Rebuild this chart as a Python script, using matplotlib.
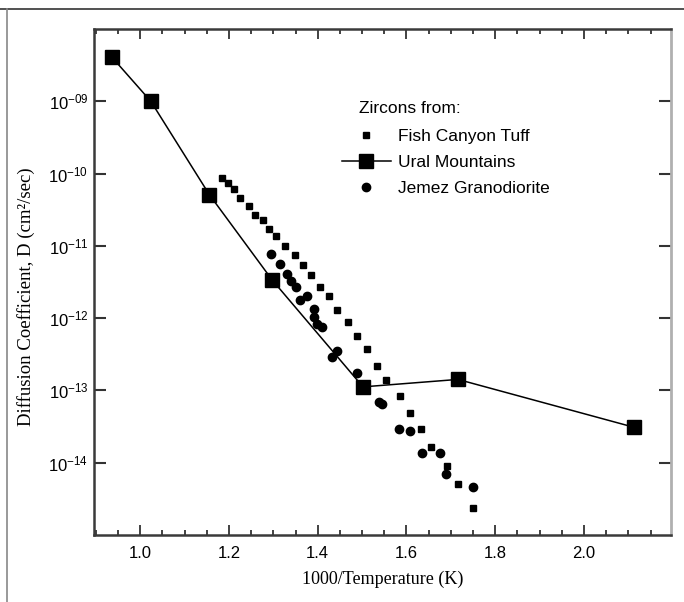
import math
import matplotlib
matplotlib.use('Agg')
import matplotlib.pyplot as plt
from matplotlib.ticker import FixedLocator, FuncFormatter, MultipleLocator

plt.rcParams['font.family'] = ['Liberation Sans', 'DejaVu Sans']

# Ural Mountains (line + big squares)
ural_x = [0.936, 1.024, 1.156, 1.297, 1.502, 1.716, 2.112]
ural_d = [4.1e-9, 1.0e-9, 5.1e-11, 3.4e-12, 1.12e-13, 1.42e-13, 3.1e-14]

# Fish Canyon Tuff (small squares)
fish_x = [1.185, 1.198, 1.211, 1.226, 1.245, 1.259, 1.277, 1.290, 1.307, 1.327,
          1.348, 1.367, 1.386, 1.405, 1.426, 1.444, 1.469, 1.488, 1.510, 1.533,
          1.555, 1.586, 1.608, 1.632, 1.655, 1.691, 1.716, 1.749]
fish_d = [8.75e-11, 7.35e-11, 6.18e-11, 4.56e-11, 3.53e-11, 2.68e-11, 2.25e-11,
          1.69e-11, 1.37e-11, 1.0e-11, 7.5e-12, 5.4e-12, 3.9e-12, 2.7e-12,
          2.0e-12, 1.3e-12, 8.9e-13, 5.6e-13, 3.8e-13, 2.2e-13, 1.4e-13,
          8.3e-14, 4.8e-14, 2.9e-14, 1.66e-14, 8.9e-15, 5.0e-15, 2.4e-15]

# Jemez Granodiorite (circles)
jemez_x = [1.295, 1.314, 1.330, 1.340, 1.350, 1.361, 1.377, 1.391, 1.391, 1.399,
           1.410, 1.433, 1.444, 1.489, 1.537, 1.546, 1.583, 1.608, 1.636, 1.676,
           1.689, 1.749]
jemez_d = [7.8e-12, 5.7e-12, 4.1e-12, 3.3e-12, 2.7e-12, 1.77e-12, 2.0e-12,
           1.35e-12, 1.03e-12, 8.4e-13, 7.5e-13, 2.86e-13, 3.5e-13, 1.72e-13,
           7.0e-14, 6.4e-14, 2.9e-14, 2.77e-14, 1.35e-14, 1.35e-14, 7.0e-15,
           4.6e-15]

y_exps = [-9, -10, -11, -12, -13, -14]

fig = plt.figure(figsize=(6.84, 6.02), dpi=100)
ax = fig.add_axes([94 / 684, 67 / 602, 577 / 684, 506 / 602])

# outer frame lines (top and left)
fig.add_artist(plt.Line2D([0, 1], [1 - 9 / 602, 1 - 9 / 602], transform=fig.transFigure,
                          color='#333333', lw=1.2))
fig.add_artist(plt.Line2D([7 / 684, 7 / 684], [0, 1 - 9 / 602], transform=fig.transFigure,
                          color='#888888', lw=1.2))

ax.plot(fish_x, fish_d, 's', color='black', ms=5, ls='none', label='Fish Canyon Tuff')
ax.plot(ural_x, ural_d, '-s', color='black', ms=9.5, lw=1.1, label='Ural Mountains')
ax.plot(jemez_x, jemez_d, 'o', color='black', ms=6, ls='none', label='Jemez Granodiorite')

ax.set_yscale('log')
ax.set_xlim(0.896, 2.196)
ax.set_ylim(1e-15, 1e-8)

ax.xaxis.set_major_locator(MultipleLocator(0.2))
ax.xaxis.set_minor_locator(MultipleLocator(0.05))
ax.xaxis.set_major_formatter(FuncFormatter(lambda v, p: f'{v:.1f}'))
ax.yaxis.set_major_locator(FixedLocator([10.0 ** e for e in y_exps]))
ax.yaxis.set_minor_locator(FixedLocator([]))
ax.yaxis.set_major_formatter(FuncFormatter(
    lambda v, p: '$\\mathregular{10^{%03d}}$' % round(math.log10(v))))

ax.tick_params(axis='x', which='both', direction='in', top=True, bottom=True,
               labelsize=12, pad=8, width=1.3, color='#333333')
ax.tick_params(axis='x', which='major', length=7.2)
ax.tick_params(axis='x', which='minor', length=3.6)
ax.tick_params(axis='y', which='major', direction='in', left=True, right=True,
               labelsize=12, pad=4, length=8.5, width=1.5, color='#333333')

for side in ['left', 'bottom', 'top']:
    ax.spines[side].set_linewidth(1.8)
    ax.spines[side].set_color('#3a3a3a')
ax.spines['right'].set_linewidth(2.0)
ax.spines['right'].set_color('#b0b0b0')

ax.set_xlabel('1000/Temperature (K)', family='Liberation Serif', fontsize=13)
ax.xaxis.set_label_coords(0.5, -0.07)
ax.set_ylabel('Diffusion Coefficient, D (cm²/sec)', family='Liberation Serif', fontsize=13.5)
ax.yaxis.set_label_coords(-0.102, 0.471)

leg = ax.legend(loc='upper left', bbox_to_anchor=(342 / 684, 1 - 129 / 602),
                bbox_transform=fig.transFigure, frameon=False, fontsize=12.5,
                handlelength=2.8, handletextpad=0.45, labelspacing=0.62,
                borderpad=0, borderaxespad=0)
fig.text(359 / 684, 1 - 108 / 602, 'Zircons from:', fontsize=12.5, va='center', ha='left')

fig.savefig('out.png', dpi=100)
